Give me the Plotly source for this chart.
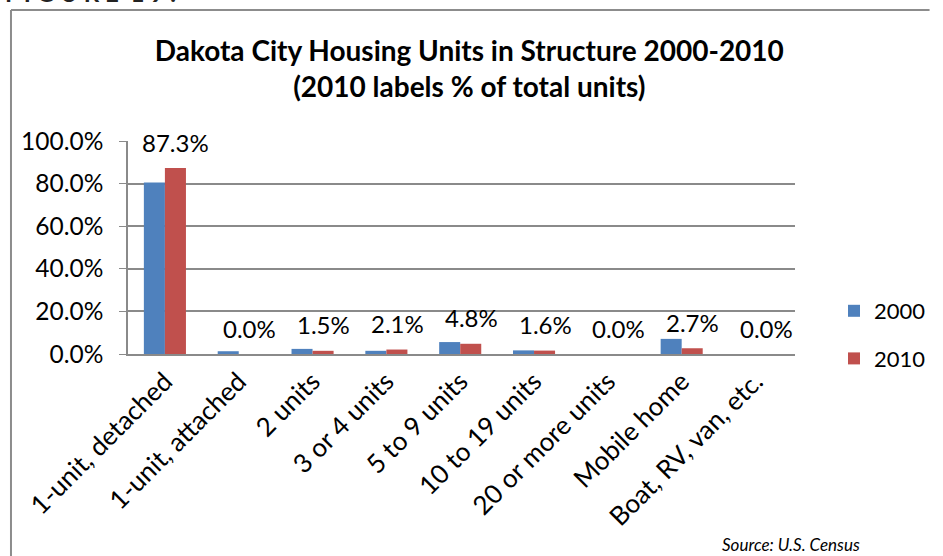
import plotly.graph_objects as go

categories = ["1-unit, detached", "1-unit, attached", "2 units", "3 or 4 units",
              "5 to 9 units", "10 to 19 units", "20 or more units", "Mobile home",
              "Boat, RV, van, etc."]
values_2000 = [80.5, 1.3, 2.4, 1.5, 5.6, 1.7, 0.0, 7.1, 0.0]
values_2010 = [87.3, 0.0, 1.5, 2.1, 4.8, 1.6, 0.0, 2.7, 0.0]
series_names = ["2000", "2010"]
y_ticks = [0, 20, 40, 60, 80, 100]

FONT = "Lato"
BLUE = "#4F81BD"
RED = "#C0504D"
GRID = "#8a8a8a"

W, H = 943, 556
ML, MR, MT = 128, 131, 141
MB = H - 354
PW, PH = W - ML - MR, H - MT - MB


def px_x(px):
    return (px - ML) / PW


def px_y(py):
    return (H - MB - py) / PH


fig = go.Figure()
fig.add_trace(go.Bar(x=categories, y=values_2000, name=series_names[0],
                     marker=dict(color=BLUE, line=dict(width=0)),
                     legendgroup="a"))
fig.add_trace(go.Bar(x=categories, y=values_2010, name=series_names[1],
                     marker=dict(color=RED, line=dict(width=0)),
                     legendgroup="b"))

annotations = []
for c, v in zip(categories, values_2010):
    annotations.append(dict(x=c, y=v, xref="x", yref="y", text=f"{v:.1f}%",
                            showarrow=False, xshift=11, yshift=26,
                            font=dict(family=FONT, size=24, color="#000")))

annotations.append(dict(xref="paper", yref="paper", x=px_x(881), y=px_y(544),
                        xanchor="right", yanchor="middle", showarrow=False,
                        text="<i>Source: U.S. Census</i>",
                        font=dict(family=FONT, size=17, color="#000")))

annotations.append(dict(xref="paper", yref="paper", x=px_x(0), y=px_y(9),
                        xanchor="left", yanchor="bottom", showarrow=False,
                        text="<b>F I G U R E  1 9 :</b>",
                        font=dict(family=FONT, size=24, color="#222")))

shapes = [
    dict(type="line", xref="paper", yref="paper", x0=px_x(8), x1=px_x(950),
         y0=px_y(10), y1=px_y(10), line=dict(color="#8c8c8c", width=2), layer="below"),
    dict(type="line", xref="paper", yref="paper", x0=px_x(8), x1=px_x(8),
         y0=px_y(10), y1=px_y(560), line=dict(color="#8c8c8c", width=2), layer="below"),
]

fig.update_layout(
    width=W, height=H,
    margin=dict(l=ML, r=MR, t=MT, b=MB, pad=0),
    paper_bgcolor="white", plot_bgcolor="white",
    barmode="group", bargap=0.43, bargroupgap=0,
    title=dict(text="<b>Dakota City Housing Units in Structure 2000-2010<br>(2010 labels % of total units)</b>",
               x=px_x(478), xref="paper", xanchor="center",
               y=1 - 61 / H, yref="container", yanchor="middle",
               font=dict(family=FONT, size=28, color="#000")),
    font=dict(family=FONT, color="#000"),
    legend=dict(x=px_x(852), y=px_y(290), xanchor="left", yanchor="top",
                xref="paper", yref="paper", orientation="v",
                font=dict(family=FONT, size=22, color="#000"),
                tracegroupgap=16, itemwidth=30, bgcolor="rgba(0,0,0,0)"),
    annotations=annotations,
    shapes=shapes,
)

fig.update_xaxes(showline=True, linecolor=GRID, linewidth=2, ticks="",
                 tickangle=-45, tickfont=dict(family=FONT, size=26, color="#000"),
                 showgrid=False, fixedrange=True)
fig.update_yaxes(range=[0, 100], tickvals=y_ticks,
                 ticktext=[f"{t:.1f}%" for t in y_ticks],
                 showgrid=True, gridcolor=GRID, gridwidth=1.5,
                 showline=True, linecolor=GRID, linewidth=1.5,
                 ticks="outside", ticklen=7, tickcolor=GRID,
                 ticklabelstandoff=11,
                 tickfont=dict(family=FONT, size=24.5, color="#000"),
                 zeroline=False, fixedrange=True)

fig.write_html("out.html", config={"displayModeBar": False},
               post_script=("document.documentElement.style.overflow='hidden';"
                            "document.body.style.overflow='hidden';"
                            "document.body.style.margin='0';"
                            "document.body.style.padding='0';"))
